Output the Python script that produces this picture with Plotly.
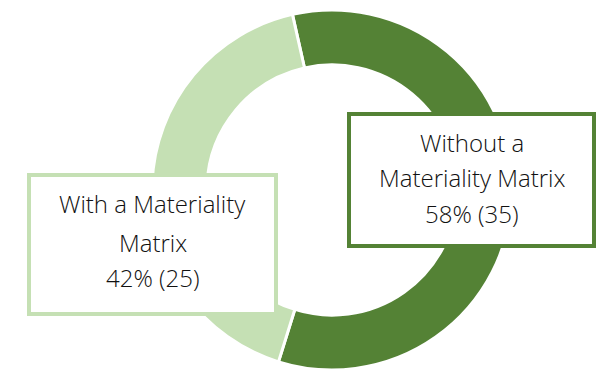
import plotly.graph_objects as go

labels = ["Without a Materiality Matrix", "With a Materiality Matrix"]
counts = [35, 25]
percents = [58, 42]
colors = ["#548235", "#C5E0B4"]
label_lines = [["Without a", "Materiality Matrix"], ["With a Materiality", "Matrix"]]

W, H = 600, 371
cx, cy, r = 332, 190, 180

fig = go.Figure(go.Pie(
    labels=labels, values=counts, sort=False, direction="clockwise",
    rotation=-12.7, hole=0.695, textinfo="none", hoverinfo="label+value+percent",
    marker=dict(colors=colors, line=dict(color="white", width=3)),
    domain=dict(x=[(cx - r) / W, (cx + r) / W], y=[(H - cy - r) / H, (H - cy + r) / H]),
    showlegend=False,
))

# label boxes (pixel extents converted to paper coordinates)
boxes = [(347, 112, 596, 248), (27, 173, 278, 316)]
line_y = [[142, 178, 213], [203, 242, 277]]
shapes, annotations = [], []
for i, (x0, y0, x1, y1) in enumerate(boxes):
    shapes.append(dict(type="rect", xref="paper", yref="paper", layer="above",
                       x0=(x0 + 2) / W, x1=(x1 - 2) / W, y0=1 - (y1 - 2) / H, y1=1 - (y0 + 2) / H,
                       line=dict(color=colors[i], width=4), fillcolor="white"))
    texts = label_lines[i] + [f"{percents[i]}% ({counts[i]})"]
    xc = (x0 + x1) / 2 / W
    for t, yy in zip(texts, line_y[i]):
        annotations.append(dict(text=t, x=xc, y=1 - yy / H, xref="paper", yref="paper",
                                showarrow=False, xanchor="center", yanchor="middle",
                                font=dict(family="Open Sans", size=24, weight=300,
                                          color="#111111")))

fig.update_layout(width=W, height=H, margin=dict(l=0, r=0, t=0, b=0),
                  paper_bgcolor="white", plot_bgcolor="white",
                  shapes=shapes, annotations=annotations)
fig.write_html("out.html")
